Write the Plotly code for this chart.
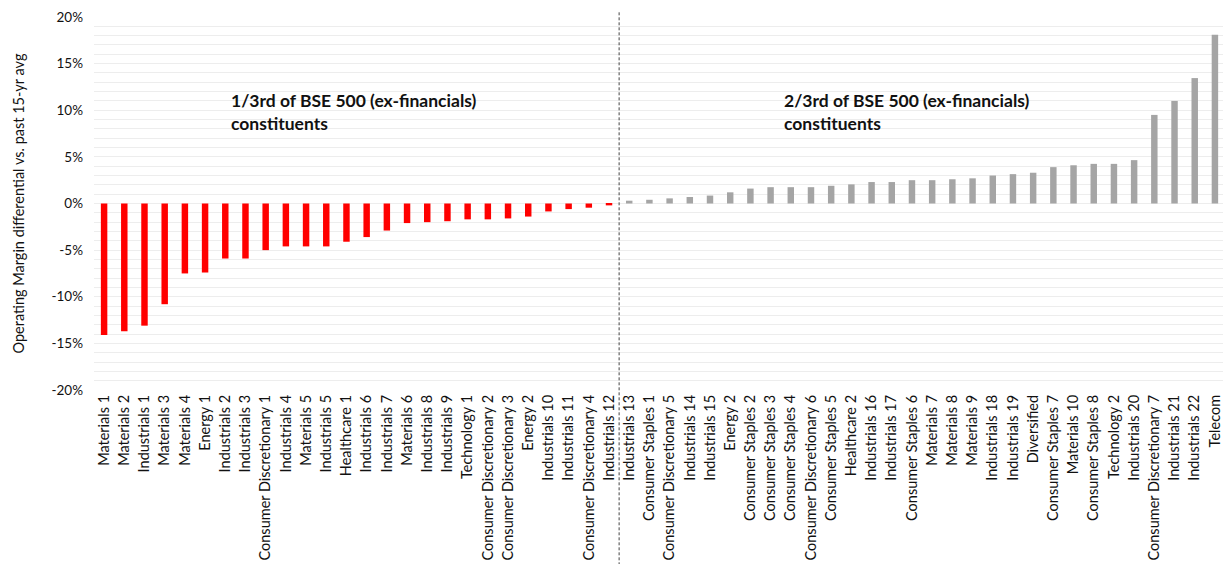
import plotly.graph_objects as go

# Operating margin differential vs. past 15-year average, BSE 500 ex-financials
categories = [
    "Materials 1", "Materials 2", "Industrials 1", "Materials 3", "Materials 4",
    "Energy 1", "Industrials 2", "Industrials 3", "Consumer Discretionary 1",
    "Industrials 4", "Materials 5", "Industrials 5", "Healthcare 1", "Industrials 6",
    "Industrials 7", "Materials 6", "Industrials 8", "Industrials 9", "Technology 1",
    "Consumer Discretionary 2", "Consumer Discretionary 3", "Energy 2",
    "Industrials 10", "Industrials 11", "Consumer Discretionary 4", "Industrials 12",
    "Industrials 13", "Consumer Staples 1", "Consumer Discretionary 5",
    "Industrials 14", "Industrials 15", "Energy 2 ", "Consumer Staples 2",
    "Consumer Staples 3", "Consumer Staples 4", "Consumer Discretionary 6",
    "Consumer Staples 5", "Healthcare 2", "Industrials 16", "Industrials 17",
    "Consumer Staples 6", "Materials 7", "Materials 8", "Materials 9",
    "Industrials 18", "Industrials 19", "Diversified", "Consumer Staples 7",
    "Materials 10", "Consumer Staples 8", "Technology 2", "Industrials 20",
    "Consumer Discretionary 7", "Industrials 21", "Industrials 22", "Telecom",
]

# Values in percent
margin_diff = [
    -14.1, -13.7, -13.1, -10.8, -7.5, -7.4, -5.9, -5.9, -5.0, -4.6, -4.6, -4.6,
    -4.1, -3.6, -2.9, -2.1, -2.0, -1.9, -1.7, -1.7, -1.6, -1.4, -0.85, -0.6,
    -0.45, -0.2,
    0.3, 0.4, 0.55, 0.7, 0.85, 1.2, 1.6, 1.75, 1.75, 1.75, 1.9, 2.05, 2.3, 2.3,
    2.5, 2.5, 2.6, 2.7, 3.0, 3.15, 3.3, 3.9, 4.1, 4.25, 4.25, 4.65, 9.5, 11.0,
    13.45, 18.1,
]

y_ticks = [-20, -15, -10, -5, 0, 5, 10, 15, 20]

bar_colors = ["#FF0000" if v < 0 else "#A5A5A5" for v in margin_diff]
n_negative = sum(1 for v in margin_diff if v < 0)

x_range = [-0.5, len(categories) - 0.6]
font_family = "Lato, 'Open Sans', sans-serif"

fig = go.Figure(
    go.Bar(
        x=list(range(len(categories))),
        y=margin_diff,
        marker=dict(color=bar_colors, line=dict(width=0)),
        width=0.32,
        showlegend=False,
    )
)

# Dashed separator between the bottom third and the top two-thirds
sep_x = (n_negative - 0.5 - x_range[0]) / (x_range[1] - x_range[0])
fig.add_shape(
    type="line", xref="paper", yref="paper",
    x0=sep_x, x1=sep_x, y0=-0.47, y1=1.013,
    line=dict(color="#444444", width=1, dash="3px,2px"),
)

group_font = dict(family=font_family, size=17.5, color="#111111")
fig.add_annotation(
    text="<b>1/3rd of BSE 500 (ex-financials)<br>constituents</b>",
    xref="paper", yref="paper", x=0.1196, y=0.744,
    xanchor="left", yanchor="middle", align="left", showarrow=False,
    font=group_font,
)
fig.add_annotation(
    text="<b>2/3rd of BSE 500 (ex-financials)<br>constituents</b>",
    xref="paper", yref="paper", x=0.6094, y=0.744,
    xanchor="left", yanchor="middle", align="left", showarrow=False,
    font=group_font,
)
fig.add_annotation(
    text="Operating Margin differential vs. past 15-yr avg",
    xref="paper", yref="paper", x=-0.0673, y=0.5,
    xanchor="center", yanchor="middle", textangle=-90, showarrow=False,
    font=dict(family=font_family, size=14.5, color="#111111"),
)

fig.update_layout(
    width=1223, height=564,
    margin=dict(l=94, r=0, t=17, b=174, autoexpand=False),
    paper_bgcolor="white", plot_bgcolor="white",
    font=dict(family=font_family, color="#111111"),
    bargap=0.68,
    xaxis=dict(
        range=x_range,
        tickmode="array",
        tickvals=list(range(len(categories))),
        ticktext=[c.strip() for c in categories],
        tickangle=-90,
        tickfont=dict(size=14.5, color="#111111"),
        ticklabelstandoff=1,
        ticklabeloverflow="allow",
        showgrid=False, zeroline=False, showline=False,
        automargin=False,
    ),
    yaxis=dict(
        range=[-20, 20],
        tickmode="array",
        tickvals=y_ticks,
        ticktext=[f"{v}%" for v in y_ticks],
        tickfont=dict(size=13.5, color="#111111"),
        ticklabelstandoff=10,
        showgrid=True, gridcolor="#EDEDED", gridwidth=1,
        minor=dict(dtick=1, showgrid=True, gridcolor="#EDEDED", gridwidth=1),
        zeroline=False, showline=False,
        automargin=False,
    ),
)

fig.write_html("out.html")
